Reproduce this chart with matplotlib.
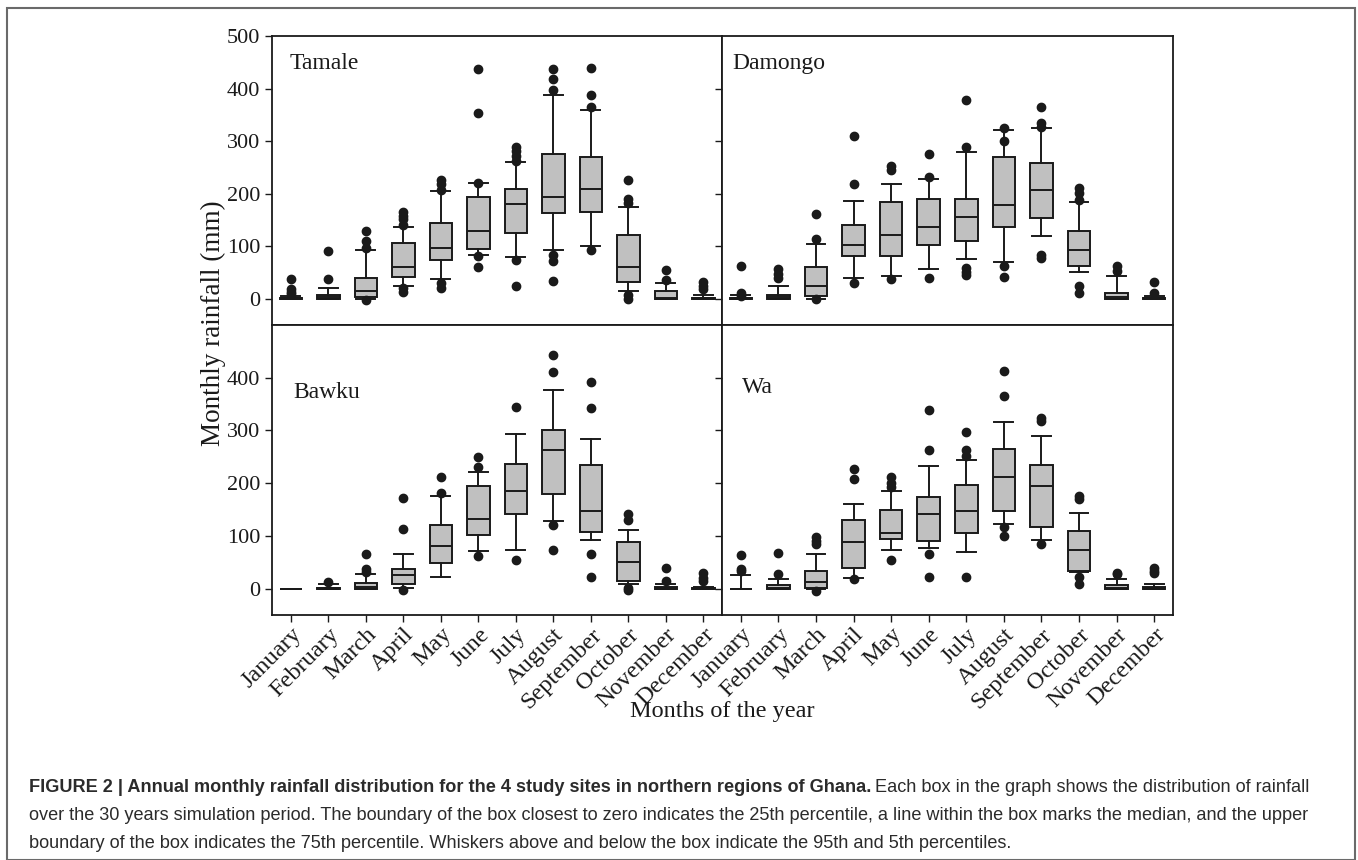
import matplotlib
matplotlib.use("Agg")
import matplotlib.pyplot as plt
from matplotlib.patches import Rectangle

months = ["January", "February", "March", "April", "May", "June", "July",
          "August", "September", "October", "November", "December"]

# Tamale
tamale_lo = [0, 0, 0, 24, 37, 84, 79, 92, 100, 15, 0, 0]
tamale_q1 = [0, 0, 3, 42, 73, 94, 126, 163, 166, 32, 0, 0]
tamale_med = [1, 3, 15, 60, 97, 129, 181, 194, 208, 61, 2, 1]
tamale_q3 = [2, 8, 39, 107, 144, 193, 208, 276, 270, 122, 15, 2]
tamale_hi = [6, 21, 92, 137, 205, 221, 261, 387, 360, 175, 30, 8]
tamale_out = [[37, 18, 13, 9], [37, 90], [129, 110, 96, -2],
              [166, 157, 151, 141, 21, 13], [226, 219, 207, 30, 21],
              [437, 353, 221, 81, 61], [289, 281, 272, 263, 73, 24],
              [437, 418, 398, 83, 72, 34], [440, 388, 365, 92],
              [226, 189, 183, 8, -1], [54, 35], [32, 24, 18]]

# Damongo
damongo_lo = [0, 0, 0, 40, 43, 56, 75, 70, 119, 51, 0, 0]
damongo_q1 = [0, 0, 5, 81, 81, 103, 110, 137, 153, 63, 0, 0]
damongo_med = [1, 3, 24, 103, 122, 137, 156, 178, 206, 93, 3, 1]
damongo_q3 = [2, 8, 61, 141, 184, 190, 190, 270, 258, 129, 11, 2]
damongo_hi = [8, 24, 105, 186, 218, 227, 279, 322, 324, 184, 43, 5]
damongo_out = [[63, 11, 5], [56, 48, 40], [162, 113, -1], [310, 218, 30],
               [252, 245, 37], [276, 232, 40], [379, 289, 59, 51, 46],
               [324, 301, 63, 41], [364, 335, 327, 84, 78],
               [211, 202, 187, 24, 11], [62, 53], [32, 10]]

# Bawku
bawku_lo = [0, 0, 0, 1, 23, 71, 74, 128, 93, 9, 0, 0]
bawku_q1 = [0, 0, 0, 8, 49, 101, 142, 179, 107, 15, 0, 0]
bawku_med = [0, 1, 3, 25, 81, 133, 185, 262, 147, 50, 1, 1]
bawku_q3 = [0, 2, 10, 38, 121, 194, 236, 301, 234, 89, 3, 2]
bawku_hi = [0, 8, 28, 66, 176, 222, 293, 376, 284, 111, 9, 4]
bawku_out = [[], [13], [66, 38, 32], [171, 114, -2], [211, 181],
             [249, 230, 62], [345, 55], [443, 411, 120, 74],
             [392, 343, 66, 22], [141, 131, 1, -2], [39, 15], [30, 20, 14]]

# Wa
wa_lo = [0, 0, 0, 20, 73, 77, 70, 123, 92, 32, 0, 0]
wa_q1 = [0, 0, 1, 39, 95, 91, 105, 147, 117, 33, 0, 0]
wa_med = [0, 2, 13, 89, 106, 142, 147, 211, 194, 74, 2, 1]
wa_q3 = [0, 6, 34, 131, 150, 173, 197, 265, 234, 110, 6, 3]
wa_hi = [25, 18, 65, 160, 185, 233, 244, 316, 290, 144, 19, 8]
wa_out = [[63, 38, 33], [68, 27], [98, 90, 84, -4], [227, 208, 18],
          [211, 201, 192, 55], [338, 263, 66, 23], [297, 263, 252, 23],
          [413, 366, 116, 100], [324, 317, 85], [176, 170, 23, 8],
          [30, 27], [39, 34, 30]]


def make_stats(lo, q1, med, q3, hi, out):
    return [dict(whislo=a, q1=b, med=c, q3=d, whishi=e, fliers=f)
            for a, b, c, d, e, f in zip(lo, q1, med, q3, hi, out)]


W, H = 1358, 860
fig = plt.figure(figsize=(W / 100, H / 100), dpi=100)
plt.rcParams['font.family'] = ['Liberation Serif', 'DejaVu Serif']
ink = '#1a1a1a'


def rect(x0, y0, x1, y1):
    return [x0 / W, 1 - y1 / H, (x1 - x0) / W, (y1 - y0) / H]


panels = [
    ("Tamale", make_stats(tamale_lo, tamale_q1, tamale_med, tamale_q3, tamale_hi, tamale_out),
     (272, 36, 722, 325), (0.040, 0.905), True, False),
    ("Damongo", make_stats(damongo_lo, damongo_q1, damongo_med, damongo_q3, damongo_hi, damongo_out),
     (722, 36, 1173, 325), (0.022, 0.905), False, False),
    ("Bawku", make_stats(bawku_lo, bawku_q1, bawku_med, bawku_q3, bawku_hi, bawku_out),
     (272, 325, 722, 615), (0.047, 0.766), True, True),
    ("Wa", make_stats(wa_lo, wa_q1, wa_med, wa_q3, wa_hi, wa_out),
     (722, 325, 1173, 615), (0.044, 0.783), False, True),
]

lw = 1.4
for name, st, box, lab_pos, ylab, xlab in panels:
    ax = fig.add_axes(rect(*box))
    ax.bxp(st, positions=range(1, 13), widths=0.6, capwidths=0.5,
           patch_artist=True,
           boxprops=dict(facecolor='#c0c0c0', edgecolor=ink, linewidth=lw),
           medianprops=dict(color=ink, linewidth=lw),
           whiskerprops=dict(color=ink, linewidth=lw),
           capprops=dict(color=ink, linewidth=lw),
           flierprops=dict(marker='o', markerfacecolor=ink, markeredgecolor=ink,
                           markersize=6, linestyle='none'))
    ax.set_xlim(0.5, 12.5)
    ax.set_ylim(-50, 500)
    for s in ax.spines.values():
        s.set_linewidth(1.3)
        s.set_color(ink)
    ax.tick_params(direction='out', length=5, width=1, color=ink,
                   labelsize=16, labelcolor=ink)
    ax.tick_params(axis='x', pad=1.5)
    if ylab:
        if xlab:
            ax.set_yticks([0, 100, 200, 300, 400])
        else:
            ax.set_yticks([0, 100, 200, 300, 400, 500])
    else:
        ax.set_yticks([0, 100, 200, 300, 400])
        ax.set_yticklabels([])
    ax.set_xticks(range(1, 13))
    if xlab:
        ax.set_xticklabels(months, rotation=45, ha='right',
                           rotation_mode='anchor', fontsize=17.5)
    else:
        ax.set_xticklabels([])
    ax.text(lab_pos[0], lab_pos[1], name, transform=ax.transAxes,
            fontsize=17, color=ink, va='center', ha='left')

fig.text(213 / W, 1 - 323 / H, "Monthly rainfall (mm)", rotation=90,
         fontsize=19.5, color=ink, ha='center', va='center')
fig.text(722 / W, 1 - 711 / H, "Months of the year", fontsize=17.5,
         color=ink, ha='center', va='center')

# outer frame
fig.patches.append(Rectangle((7 / W, 0), (1355 - 7) / W, 1 - 8 / H,
                             transform=fig.transFigure, fill=False,
                             edgecolor='#6a6a6a', linewidth=1.5))

# caption
cap_font = ['Liberation Sans', 'DejaVu Sans']
cap_col = '#2b2b2b'
cap_size = 13.1
cap_x = 29 / W
renderer = fig.canvas.get_renderer()
t1 = fig.text(cap_x, 1 - 787 / H,
              "FIGURE 2 | Annual monthly rainfall distribution for the 4 study sites in northern regions of Ghana.",
              fontsize=cap_size, fontweight='bold', family=cap_font, color=cap_col,
              va='center', ha='left')
bb = t1.get_window_extent(renderer)
fig.text(bb.x1 / W + 4 / W, 1 - 787 / H,
         "Each box in the graph shows the distribution of rainfall",
         fontsize=cap_size, family=cap_font, color=cap_col, va='center', ha='left')
fig.text(cap_x, 1 - 815 / H,
         "over the 30 years simulation period. The boundary of the box closest to zero indicates the 25th percentile, "
         "a line within the box marks the median, and the upper",
         fontsize=cap_size, family=cap_font, color=cap_col, va='center', ha='left')
fig.text(cap_x, 1 - 843 / H,
         "boundary of the box indicates the 75th percentile. Whiskers above and below the box indicate the 95th and 5th percentiles.",
         fontsize=cap_size, family=cap_font, color=cap_col, va='center', ha='left')

fig.savefig("out.png", dpi=100)
